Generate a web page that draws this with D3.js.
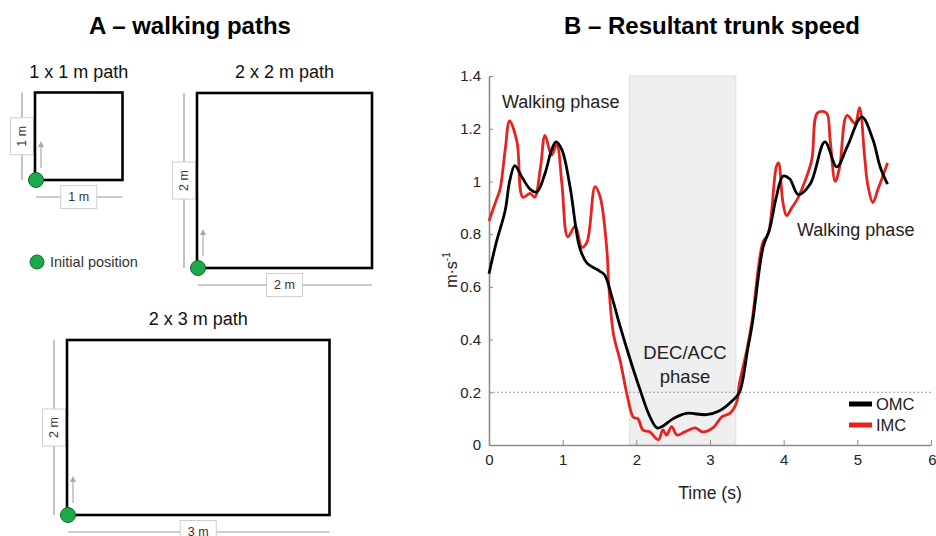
<!DOCTYPE html>
<html>
<head>
<meta charset="utf-8">
<script src="https://cdn.jsdelivr.net/npm/d3@7"></script>
<style>
  body { margin: 0; background: #fff; }
  svg { font-family: "Liberation Sans", Arial, sans-serif; }
  .axis path, .axis line { stroke: #8c8c8c; }
  .axis text { font-size: 15px; fill: #222; }
</style>
</head>
<body>
<div class="container"></div>
<script>
const WIDTH = 936,
    HEIGHT = 536;

// panel A: walking paths (metres)
var pathLabels = ['1 x 1 m path', '2 x 2 m path', '2 x 3 m path'];
var pathWidths = [1, 2, 3];
var pathHeights = [1, 2, 2];

// panel B: resultant trunk speed (s, m/s)
var omcTime = [0, 0.1, 0.22, 0.28, 0.35, 0.44, 0.56, 0.65, 0.76, 0.85, 0.91, 0.99, 1.1, 1.23, 1.33, 1.44, 1.5, 1.57, 1.67, 1.78, 1.91, 2.05, 2.18, 2.28, 2.35, 2.5, 2.68, 2.95, 3.13, 3.31, 3.4, 3.51, 3.58, 3.72, 3.81, 3.9, 3.99, 4.08, 4.2, 4.36, 4.56, 4.72, 4.86, 5.06, 5.21, 5.31, 5.41];
var omcSpeed = [0.65, 0.77, 0.89, 1.0, 1.06, 1.02, 0.97, 0.96, 1.03, 1.12, 1.15, 1.12, 0.98, 0.75, 0.69, 0.67, 0.66, 0.645, 0.56, 0.45, 0.33, 0.21, 0.11, 0.065, 0.07, 0.1, 0.12, 0.115, 0.13, 0.17, 0.2, 0.36, 0.47, 0.75, 0.82, 0.94, 1.02, 1.01, 0.95, 0.99, 1.15, 1.055, 1.13, 1.245, 1.16, 1.055, 0.99];
var imcTime = [0, 0.1, 0.15, 0.22, 0.28, 0.38, 0.46, 0.56, 0.62, 0.7, 0.76, 0.85, 0.92, 0.99, 1.07, 1.17, 1.26, 1.33, 1.44, 1.51, 1.6, 1.625, 1.69, 1.78, 1.89, 1.96, 2.02, 2.09, 2.18, 2.3, 2.36, 2.41, 2.48, 2.55, 2.66, 2.8, 2.9, 3.04, 3.16, 3.27, 3.36, 3.4, 3.5, 3.57, 3.72, 3.79, 3.9, 3.93, 3.99, 4.04, 4.11, 4.18, 4.26, 4.38, 4.46, 4.58, 4.63, 4.7, 4.76, 4.86, 4.97, 5.03, 5.1, 5.14, 5.21, 5.28, 5.41];
var imcSpeed = [0.85, 0.93, 0.97, 1.12, 1.23, 1.15, 0.94, 0.955, 0.94, 1.055, 1.175, 1.1, 1.14, 0.99, 0.79, 0.83, 0.75, 0.77, 0.98, 0.94, 0.74, 0.61, 0.42, 0.32, 0.17, 0.105, 0.1, 0.057, 0.05, 0.02, 0.057, 0.038, 0.07, 0.038, 0.05, 0.065, 0.05, 0.065, 0.107, 0.12, 0.16, 0.235, 0.36, 0.47, 0.77, 0.8, 1.055, 1.07, 0.92, 0.87, 0.9, 0.93, 0.98, 1.08, 1.26, 1.26, 1.16, 1.0, 1.055, 1.25, 1.22, 1.28, 1.09, 0.99, 0.92, 0.97, 1.07];
var phaseStart = 1.91, phaseEnd = 3.35;
var threshold = 0.2;
var xTicks = [0, 1, 2, 3, 4, 5, 6];
var yTicks = [0, 0.2, 0.4, 0.6, 0.8, 1, 1.2, 1.4];
var seriesNames = ['OMC', 'IMC'];
var seriesColors = ['#000000', '#e8221e'];

var translate = (x, y) => "translate(" + x + "," + y + ")";

var svg = d3.select('.container').append('svg')
    .attr('width', WIDTH)
    .attr('height', HEIGHT);

// ---------- panel A ----------
svg.append('text')
    .attr('x', 190).attr('y', 34)
    .attr('text-anchor', 'middle')
    .style('font-size', '24px').style('font-weight', 'bold')
    .text('A \u2013 walking paths');

var mScale = d3.scaleLinear().domain([0, 1]).range([0, 87.5]);
var origins = [[35, 180], [197, 268], [67, 515]];

var dimLabel = (g, x, y, txt, vertical) => {
    var bw = vertical ? 23 : 36, bh = vertical ? 37 : 23;
    g.append('rect')
        .attr('x', x - bw / 2).attr('y', y - bh / 2)
        .attr('width', bw).attr('height', bh)
        .attr('fill', '#fff').attr('stroke', '#cfcfcf');
    g.append('text')
        .attr('transform', translate(x, y) + (vertical ? ' rotate(-90)' : ''))
        .attr('text-anchor', 'middle').attr('dy', '0.35em')
        .style('font-size', '12.5px').attr('fill', '#333')
        .text(txt);
};

pathLabels.forEach((label, i) => {
    var [ox, oy] = origins[i];
    var w = mScale(pathWidths[i]), h = mScale(pathHeights[i]);
    var g = svg.append('g').attr('transform', translate(ox, oy));

    g.append('text')
        .attr('x', w / 2).attr('y', -h - 15)
        .attr('text-anchor', 'middle')
        .style('font-size', '18px').attr('fill', '#111')
        .text(label);

    // dimension lines
    g.append('line')
        .attr('x1', -13).attr('x2', -13).attr('y1', 0).attr('y2', -h)
        .attr('stroke', '#9a9a9a').attr('stroke-width', 1.2);
    g.append('line')
        .attr('x1', 1).attr('x2', w).attr('y1', 17).attr('y2', 17)
        .attr('stroke', '#9a9a9a').attr('stroke-width', 1.2);
    dimLabel(g, -13, -h / 2, pathHeights[i] + ' m', true);
    dimLabel(g, w / 2, 17, pathWidths[i] + ' m', false);

    g.append('rect')
        .attr('x', 0).attr('y', -h)
        .attr('width', w).attr('height', h)
        .attr('fill', 'none').attr('stroke', '#000').attr('stroke-width', 2.6);

    // direction arrow
    g.append('line')
        .attr('x1', 6).attr('x2', 6).attr('y1', -12).attr('y2', -34)
        .attr('stroke', '#aaa').attr('stroke-width', 1.2);
    g.append('path')
        .attr('d', 'M3,-33 L6,-39 L9,-33 Z')
        .attr('fill', '#aaa');

    g.append('circle')
        .attr('cx', 1).attr('cy', 0).attr('r', 7.5)
        .attr('fill', '#1fa84a').attr('stroke', '#0d6e2b').attr('stroke-width', 1);
});

svg.append('circle')
    .attr('cx', 37).attr('cy', 262).attr('r', 7)
    .attr('fill', '#1fa84a').attr('stroke', '#0d6e2b').attr('stroke-width', 1);
svg.append('text')
    .attr('x', 50).attr('y', 267)
    .style('font-size', '14.5px').attr('fill', '#333')
    .text('Initial position');

// ---------- panel B ----------
svg.append('text')
    .attr('x', 712).attr('y', 34)
    .attr('text-anchor', 'middle')
    .style('font-size', '24px').style('font-weight', 'bold')
    .text('B \u2013 Resultant trunk speed');

var x = d3.scaleLinear().domain([0, 6]).range([489, 931]);
var y = d3.scaleLinear().domain([0, 1.4]).range([445, 76]);

svg.append('rect')
    .attr('x', x(phaseStart)).attr('y', y(1.4))
    .attr('width', x(phaseEnd) - x(phaseStart))
    .attr('height', y(0) - y(1.4))
    .attr('fill', '#f0efef').attr('stroke', '#dcdcdc');

svg.append('line')
    .attr('x1', x(0)).attr('x2', x(6))
    .attr('y1', y(threshold)).attr('y2', y(threshold))
    .attr('stroke', '#888').attr('stroke-width', 0.8)
    .attr('stroke-dasharray', '2,2');

var xAxis = d3.axisBottom(x).tickValues(xTicks).tickSize(-5).tickSizeOuter(0).tickPadding(9)
    .tickFormat(d3.format('d'));
var yAxis = d3.axisLeft(y).tickValues(yTicks).tickSize(-4).tickSizeOuter(0).tickPadding(8)
    .tickFormat(d3.format('~g'));

var gx = svg.append('g')
    .attr('transform', translate(0, y(0)))
    .classed('axis', true)
    .call(xAxis);
gx.selectAll('.tick text').filter(d => d === 6)
    .attr('text-anchor', 'end').attr('dx', '5');
svg.append('g')
    .attr('transform', translate(x(0), 0))
    .classed('axis', true)
    .call(yAxis);
svg.selectAll('.axis path').attr('stroke-width', 1.6);

var line = d3.line()
    .x(d => x(d[0]))
    .y(d => y(d[1]))
    .curve(d3.curveCatmullRom.alpha(0.5));

var series = [
    d3.zip(omcTime, omcSpeed),
    d3.zip(imcTime, imcSpeed)
];
// draw IMC beneath OMC
[1, 0].forEach(i => {
    svg.append('path')
        .attr('d', line(series[i]))
        .attr('fill', 'none')
        .attr('stroke', seriesColors[i])
        .attr('stroke-width', 2.8)
        .attr('stroke-linejoin', 'round');
});

// annotations
var note = (tx, ty, txt, anchor, size) => svg.append('text')
    .attr('x', tx).attr('y', ty)
    .attr('text-anchor', anchor || 'start')
    .style('font-size', (size || 18) + 'px').attr('fill', '#222')
    .text(txt);
note(502, 108, 'Walking phase');
note(797, 236, 'Walking phase');
note(685, 359, 'DEC/ACC', 'middle', 18.5);
note(685, 383, 'phase', 'middle', 18.5);

// axis titles
svg.append('text')
    .attr('transform', translate(457, 270) + ' rotate(-90)')
    .attr('text-anchor', 'middle')
    .style('font-size', '16px').attr('fill', '#222')
    .html('m\u00b7s<tspan dy="-7" font-size="10">-1</tspan>');
note(710, 499, 'Time (s)', 'middle', 17.5);

// legend
seriesNames.forEach((name, i) => {
    var ly = 404 + i * 21;
    svg.append('line')
        .attr('x1', 849).attr('x2', 872)
        .attr('y1', ly).attr('y2', ly)
        .attr('stroke', seriesColors[i]).attr('stroke-width', 5);
    svg.append('text')
        .attr('x', 876).attr('y', ly + 6)
        .style('font-size', '16.5px').attr('fill', '#222')
        .text(name);
});
</script>
</body>
</html>
